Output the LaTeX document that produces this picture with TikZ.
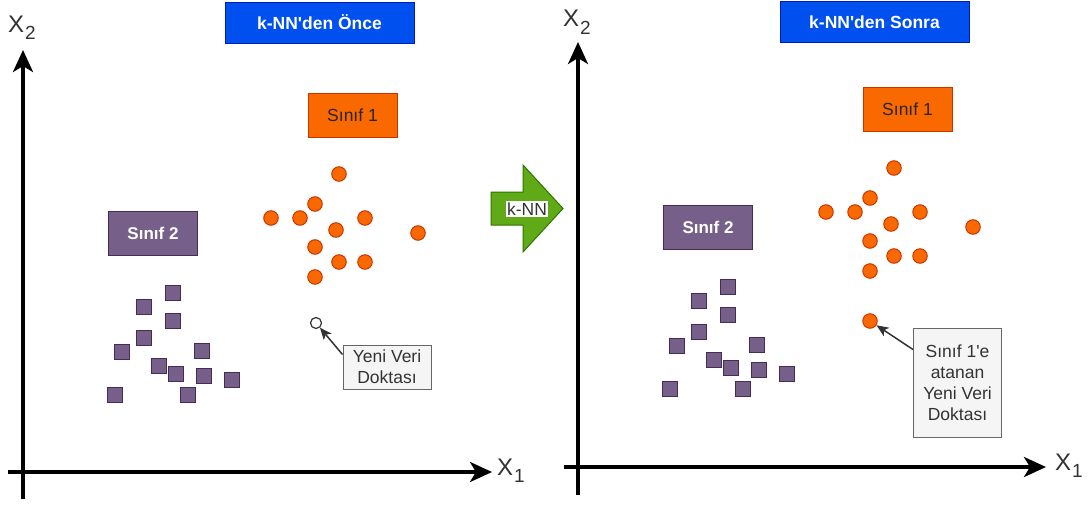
\documentclass[tikz,border=0pt]{standalone}
\usepackage{fontspec}
\setmainfont{Liberation Sans}[Ligatures=TeXOff]

\usetikzlibrary{arrows.meta}

\definecolor{tblue}{HTML}{0050EF}
\definecolor{tblueline}{HTML}{001DBC}
\definecolor{orfill}{HTML}{FA6800}
\definecolor{orline}{HTML}{C73500}
\definecolor{pufill}{HTML}{76608A}
\definecolor{puline}{HTML}{432D57}
\definecolor{grfill}{HTML}{60A917}
\definecolor{grline}{HTML}{2D7600}
\definecolor{notefill}{HTML}{F5F5F5}
\definecolor{noteline}{HTML}{666666}
\definecolor{txtgray}{HTML}{333333}

% axis label: X with a lowered index
\newcommand{\axlab}[1]{{\fontsize{24}{24}\selectfont X}\kern1pt\raisebox{-7pt}{\fontsize{19}{19}\selectfont #1}}

\begin{document}
\begin{tikzpicture}[x=1pt,y=-1pt,
  base/.style={font=\fontsize{17.5}{21}\selectfont, align=center},
  titlebox/.style={base, draw=tblueline, fill=tblue, text=white,
    font=\bfseries\fontsize{17.5}{21}\selectfont,
    minimum width=189pt, minimum height=41pt, inner sep=0pt, line width=1pt},
  classone/.style={base, draw=orline, fill=orfill, text=black!85,
    minimum width=89pt, minimum height=44pt, inner sep=0pt, line width=1pt},
  classtwo/.style={base, draw=puline, fill=pufill, text=white,
    font=\bfseries\fontsize{17}{21}\selectfont,
    minimum width=89pt, minimum height=44pt, inner sep=0pt, line width=1pt},
  dot/.style={circle, draw=orline, fill=orfill, minimum size=14.5pt,
    inner sep=0pt, line width=1pt},
  sq/.style={rectangle, draw=puline, fill=pufill, minimum size=14.5pt,
    inner sep=0pt, line width=1.2pt},
  newpt/.style={circle, draw=txtgray, fill=white, minimum size=11pt,
    inner sep=0pt, line width=1.2pt},
  notebox/.style={base, draw=noteline, fill=notefill, text=txtgray,
    minimum width=88pt, inner sep=0pt, line width=1pt},
  axis/.style={line width=3.5pt, -{Stealth[length=22pt,width=20pt,inset=6pt]}},
  axlabel/.style={anchor=base west, inner sep=0pt, text=txtgray},
  pointer/.style={line width=1.5pt, draw=txtgray,
    -{Stealth[length=12pt,width=10pt,inset=3pt]}}
]
\useasboundingbox (0,0) rectangle (1091,506);

% ---------- axes ----------
\coordinate (LyB) at (23,499);
\coordinate (LyT) at (23,50);
\coordinate (LxB) at (8,472);
\coordinate (LxT) at (492,472);
\coordinate (RyB) at (578,495);
\coordinate (RyT) at (578,42);
\coordinate (RxB) at (564,467);
\coordinate (RxT) at (1046,467);
\draw[axis] (LyB) -- (LyT);
\draw[axis] (LxB) -- (LxT);
\draw[axis] (RyB) -- (RyT);
\draw[axis] (RxB) -- (RxT);

\node[axlabel] (Lx2) at (8,32) {\axlab{2}};
\node[axlabel] (Lx1) at (497,475) {\axlab{1}};
\node[axlabel] (Rx2) at (563,27) {\axlab{2}};
\node[axlabel] (Rx1) at (1055,470) {\axlab{1}};

% ---------- titles ----------
\node[titlebox] (tleft) at (319.5,22.5) {k-NN'den Önce};
\node[titlebox] (tright) at (874.5,22) {k-NN'den Sonra};

% ---------- class labels ----------
\node[classone] (c1L) at (352.5,115) {Sınıf 1};
\node[classtwo] (c2L) at (153,233) {Sınıf 2};
\node[classone] (c1R) at (907.5,109) {Sınıf 1};
\node[classtwo] (c2R) at (708,227) {Sınıf 2};

% ---------- class 1 points (right panel is shifted by (555,-6)) ----------
\foreach \x/\y [count=\i] in {339/174,315/204,271/218,300/218,365/218,336/230,
    418/233,315/247,339/262,365/262,315/277}{
  \node[dot] (pL\i) at (\x,\y) {};
  \node[dot] (pR\i) at (\x+555,\y-6) {};
}

% ---------- class 2 points ----------
\foreach \x/\y [count=\i] in {173/293,144/307,173/321,144/338,122/352,202/351,
    159/366,176/374,204/376,232/380,115/395,188/395}{
  \node[sq] (sL\i) at (\x,\y) {};
  \node[sq] (sR\i) at (\x+555,\y-6) {};
}

% ---------- new data point ----------
\node[newpt] (nL) at (316,323) {};
\node[dot] (nR) at (870,321) {};

\node[notebox, minimum height=44pt] (noteL) at (387,367) {Yeni Veri\\Doktası};
\node[notebox, minimum height=109pt] (noteR) at (957.5,382.5)
  {Sınıf 1'e\\atanan\\Yeni Veri\\Doktası};

\draw[pointer] ([yshift=-10pt]noteL.north west) -- (nL);
\draw[pointer] ([yshift=-22pt]noteR.north west) -- (nR);

% ---------- transition arrow ----------
\filldraw[fill=grfill, draw=grline, line width=1pt]
  (491,192) -- (523,192) -- (523,165) -- (563,208.5) -- (523,252)
  -- (523,225) -- (491,225) -- cycle;
\node[base, fill=white, text=txtgray, inner sep=1.5pt] (knn) at (527,209) {k-NN};

\end{tikzpicture}
\end{document}
